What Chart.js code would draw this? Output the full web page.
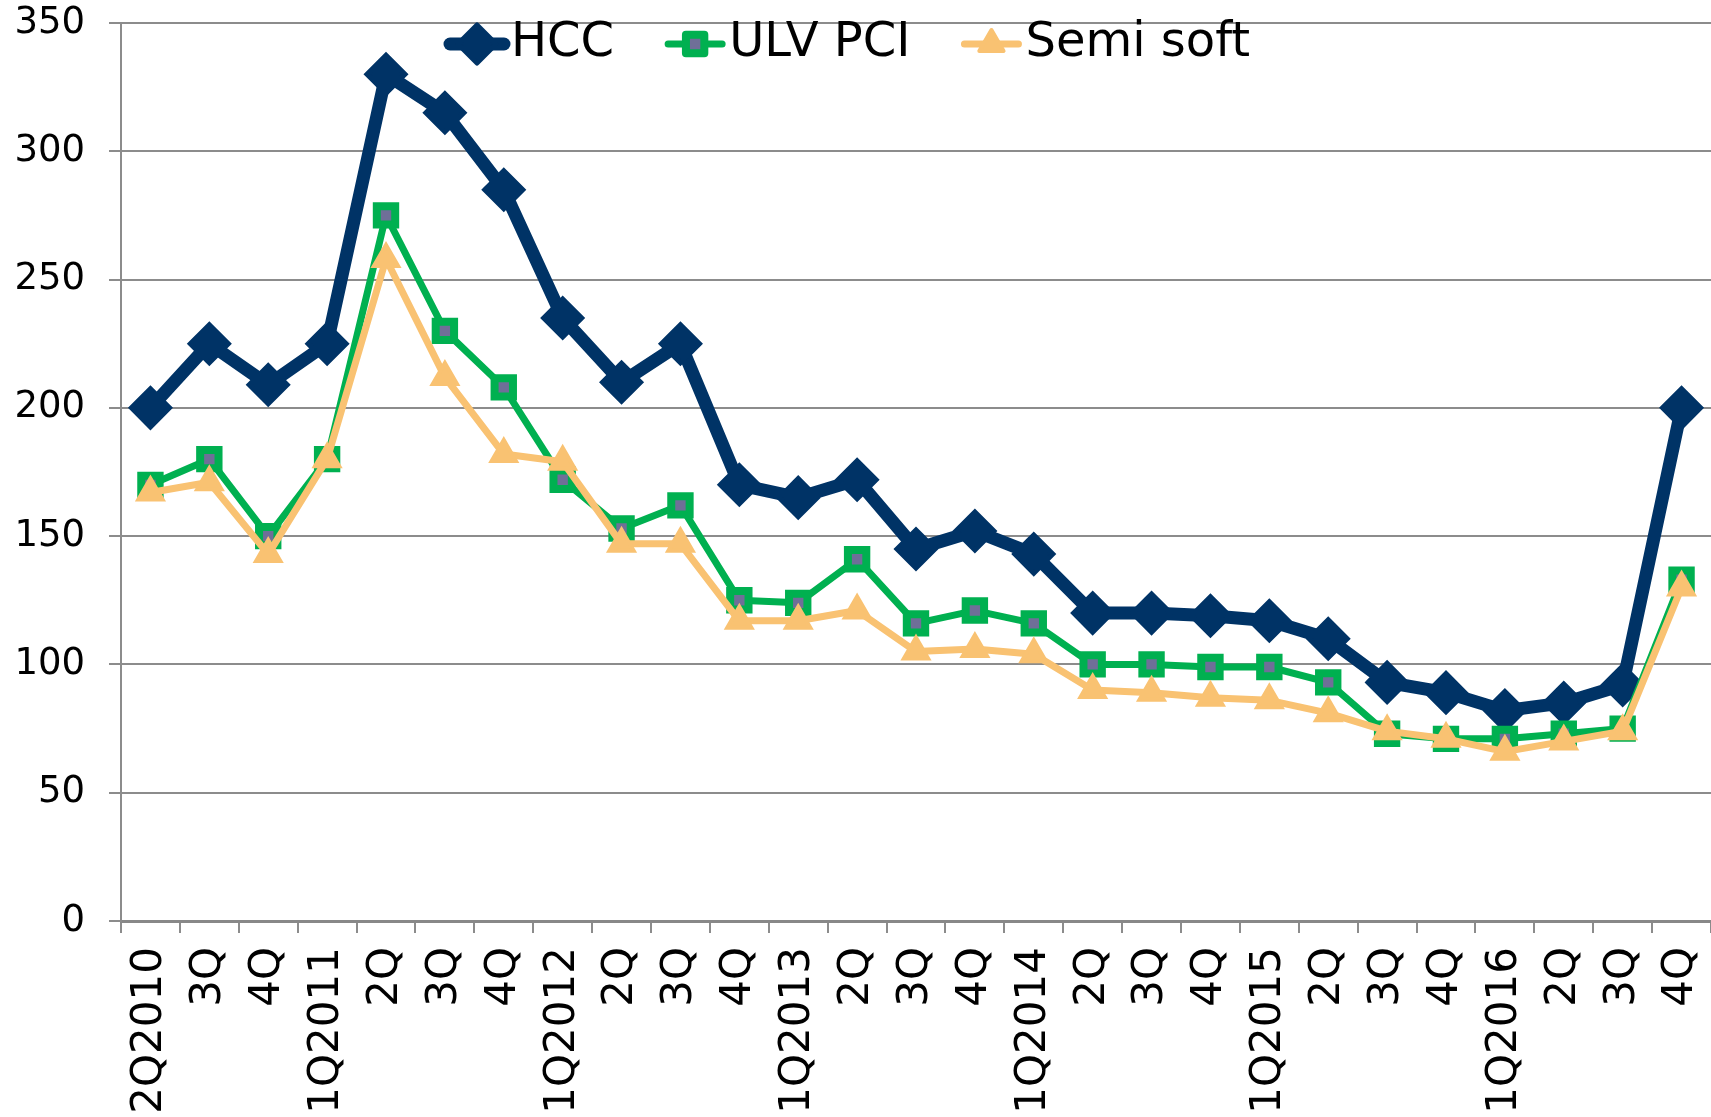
<!DOCTYPE html>
<html>
<head>
<meta charset="utf-8">
<script src="https://cdn.jsdelivr.net/npm/chart.js@4/dist/chart.umd.min.js"></script>
<style>
  body { margin: 0; background: #fff; }
  #wrap { width: 1711px; height: 1117px; }
</style>
</head>
<body>
<div id="wrap"><canvas id="myChart"></canvas></div>
<script>
const quarters = ['2Q2010', '3Q', '4Q',
  '1Q2011', '2Q', '3Q', '4Q',
  '1Q2012', '2Q', '3Q', '4Q',
  '1Q2013', '2Q', '3Q', '4Q',
  '1Q2014', '2Q', '3Q', '4Q',
  '1Q2015', '2Q', '3Q', '4Q',
  '1Q2016', '2Q', '3Q', '4Q'];
const hcc = [200, 225, 209, 225, 330, 315, 285, 235, 210, 225, 170, 165, 172, 145, 152, 143,
  120, 120, 119, 117, 110, 93, 89, 82, 85, 92, 200];
const ulvPci = [170, 180, 150, 180, 275, 230, 208, 172, 153, 162, 125, 124, 141, 116, 121, 116,
  100, 100, 99, 99, 93, 73, 71, 71, 73, 75, 133];
const semiSoft = [167, 171, 143, 180, 258, 212, 182, 179, 147, 147, 117, 117, 121, 105, 106, 104,
  90, 89, 87, 86, 81, 74, 71, 66, 70, 74, 130];
const yTicks = [0, 50, 100, 150, 200, 250, 300, 350];

const gridGrey = '#8c8c8c';

// legend drawn by hand: line segment + marker, like the office style legend
const lineLegend = {
  id: 'lineLegend',
  afterDraw(chart) {
    const ctx = chart.ctx;
    ctx.save();
    ctx.font = '48px "DejaVu Sans"';
    ctx.textBaseline = 'middle';
    let x = 450;
    const y = 44;
    chart.data.datasets.forEach(ds => {
      ctx.strokeStyle = ds.borderColor;
      ctx.lineWidth = ds.borderWidth;
      ctx.lineCap = 'round';
      ctx.beginPath();
      ctx.moveTo(x, y);
      ctx.lineTo(x + 54, y);
      ctx.stroke();
      ctx.fillStyle = ds.pointBackgroundColor;
      ctx.strokeStyle = ds.pointBorderColor;
      ctx.lineWidth = ds.pointBorderWidth;
      ctx.lineJoin = 'round';
      Chart.helpers.drawPoint(ctx, {
        pointStyle: ds.pointStyle,
        radius: ds.pointRadius,
        borderWidth: ds.pointBorderWidth,
        rotation: 0
      }, x + 27, y);
      ctx.fillStyle = '#000';
      const tx = x + 61;
      ctx.fillText(ds.label, tx, y);
      x = tx + ctx.measureText(ds.label).width + 54;
    });
    ctx.restore();
  }
};

const ctx = document.getElementById('myChart').getContext('2d');
const myChart = new Chart(ctx, {
  type: 'line',
  data: {
    labels: quarters,
    datasets: [{
      label: 'HCC',
      data: hcc,
      borderColor: '#003366',
      borderWidth: 13,
      pointStyle: 'rectRot',
      pointRadius: 19,
      pointBackgroundColor: '#003366',
      pointBorderColor: '#003366',
      pointBorderWidth: 5,
      order: 3
    }, {
      label: 'ULV PCI',
      data: ulvPci,
      borderColor: '#00b050',
      borderWidth: 7,
      pointStyle: 'rect',
      pointRadius: 13,
      pointBackgroundColor: '#6f6f98',
      pointBorderColor: '#00b050',
      pointBorderWidth: 8,
      order: 2
    }, {
      label: 'Semi soft',
      data: semiSoft,
      borderColor: '#f9c272',
      borderWidth: 7,
      pointStyle: 'triangle',
      pointRadius: 14,
      pointBackgroundColor: '#f9c272',
      pointBorderColor: '#f9c272',
      pointBorderWidth: 4,
      order: 1
    }]
  },
  options: {
    responsive: true,
    maintainAspectRatio: false,
    animation: false,
    layout: { autoPadding: false, padding: { top: 23, left: 0, right: 0, bottom: 0 } },
    elements: { line: { tension: 0, borderJoinStyle: 'round' } },
    plugins: {
      legend: { display: false },
      tooltip: { enabled: false }
    },
    scales: {
      x: {
        offset: true,
        grid: {
          offset: true,
          drawOnChartArea: false,
          color: gridGrey,
          lineWidth: 2,
          tickLength: 12
        },
        border: { display: true, color: '#888888', width: 3 },
        ticks: {
          autoSkip: false,
          maxRotation: 90,
          minRotation: 90,
          padding: 14,
          color: '#000',
          font: { family: 'DejaVu Sans', size: 42 }
        },
        afterFit(scale) {
          scale.height = 196;
          scale.paddingLeft = 0;
          scale.paddingRight = 0;
        }
      },
      y: {
        min: 0,
        max: 350,
        afterBuildTicks(scale) { scale.ticks = yTicks.map(v => ({ value: v })); },
        grid: { color: gridGrey, lineWidth: 2, tickLength: 12 },
        border: { display: true, color: gridGrey, width: 2 },
        ticks: {
          padding: 24,
          color: '#000',
          font: { family: 'DejaVu Sans', size: 37 }
        },
        afterFit(scale) {
          scale.width = 121;
          scale.paddingTop = 0;
          scale.paddingBottom = 0;
        }
      }
    }
  },
  plugins: [lineLegend]
});
</script>
</body>
</html>
